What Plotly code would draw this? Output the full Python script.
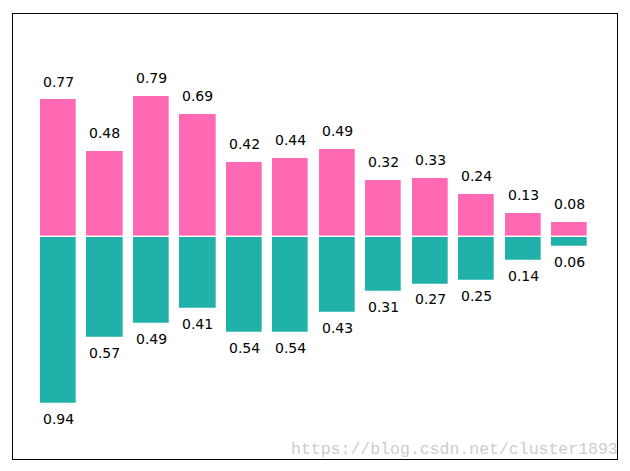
import plotly.graph_objects as go

positions = list(range(12))
up_values = [0.77, 0.48, 0.79, 0.69, 0.42, 0.44, 0.49, 0.32, 0.33, 0.24, 0.13, 0.08]
down_values = [0.94, 0.57, 0.49, 0.41, 0.54, 0.54, 0.43, 0.31, 0.27, 0.25, 0.14, 0.06]
up_labels = [f"{v:.2f}" for v in up_values]
down_labels = [f"{v:.2f}" for v in down_values]

fig = go.Figure()
fig.add_trace(go.Bar(x=positions, y=up_values, width=0.8,
                     marker=dict(color="#ff69b4", line=dict(color="white", width=1.3)),
                     showlegend=False, hoverinfo="skip"))
fig.add_trace(go.Bar(x=positions, y=[-v for v in down_values], width=0.8,
                     marker=dict(color="#20b2aa", line=dict(color="white", width=1.3)),
                     showlegend=False, hoverinfo="skip"))

annotations = []
for x, v, t in zip(positions, up_values, up_labels):
    annotations.append(dict(x=x, y=v + 0.05, xref="x", yref="y", text=t, showarrow=False,
                            xanchor="center", yanchor="bottom", yshift=-1,
                            font=dict(family="DejaVu Sans", size=14, color="black")))
for x, v, t in zip(positions, down_values, down_labels):
    annotations.append(dict(x=x, y=-v - 0.05, xref="x", yref="y", text=t, showarrow=False,
                            xanchor="center", yanchor="top", yshift=4,
                            font=dict(family="DejaVu Sans", size=14, color="black")))
annotations.append(dict(x=1.005, y=-0.004, xref="paper", yref="paper",
                        text="https://blog.csdn.net/cluster1893", showarrow=False,
                        xanchor="right", yanchor="bottom",
                        font=dict(family="Liberation Mono", size=16.5, color="rgba(190,190,190,0.8)")))

# page body has an 8px default margin, so the figure is sized to fit the window
fig.update_layout(
    width=622, height=463,
    margin=dict(l=5, r=13, t=6, b=12, autoexpand=False),
    paper_bgcolor="white", plot_bgcolor="white",
    barmode="overlay", bargap=0,
    annotations=annotations,
    xaxis=dict(range=[-0.98, 12.02], showticklabels=False, ticks="", showgrid=False,
               zeroline=False, showline=True, mirror=True, linecolor="black", linewidth=1),
    yaxis=dict(range=[-1.25, 1.25], showticklabels=False, ticks="", showgrid=False,
               zeroline=False, showline=True, mirror=True, linecolor="black", linewidth=1),
)

fig.write_html("out.html")
